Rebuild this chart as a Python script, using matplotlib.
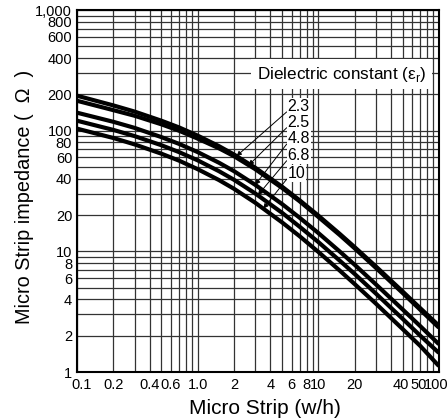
import numpy as np
import matplotlib
matplotlib.use("Agg")
import matplotlib.pyplot as plt
import matplotlib.transforms as mtransforms
from matplotlib.ticker import FixedLocator, NullLocator, NullFormatter

plt.rcParams['font.family'] = ['Liberation Sans', 'DejaVu Sans']

# ---- data ----
w_h = [0.1, 0.2, 0.3, 0.5, 0.7, 1, 1.5, 2, 3, 5, 7, 10, 15, 20, 30, 50, 70, 100]
z_23 = [195, 162, 144, 121, 106.5, 91, 74.5, 63.5, 49.3, 34.4, 26.5, 19.8, 14.0, 10.85, 7.5, 4.65, 3.38, 2.42]
z_25 = [177, 148, 133, 113, 100, 86, 71.5, 61.5, 48, 33.6, 26, 19.3, 13.7, 10.6, 7.3, 4.52, 3.28, 2.33]
z_48 = [141, 118.5, 105.5, 88.5, 77.8, 66.5, 54.3, 46.2, 35.6, 24.7, 19.0, 14.2, 10.0, 7.75, 5.33, 3.3, 2.4, 1.70]
z_68 = [121, 101.5, 90.2, 75.8, 66.5, 56.8, 46.2, 39.2, 30.2, 20.9, 16.0, 11.95, 8.4, 6.5, 4.47, 2.76, 2.0, 1.44]
z_10 = [104, 87, 77, 64.5, 56.5, 48, 39, 33, 25.3, 17.4, 13.35, 9.9, 6.95, 5.36, 3.69, 2.27, 1.645, 1.12]

series_labels = ['2.3', '2.5', '4.8', '6.8', '10']
series = [z_23, z_25, z_48, z_68, z_10]
arrow_x = [2.1, 2.65, 3.0, 3.15, 3.5]
label_y = [158, 117, 86, 62.5, 44]
label_x = 5.55

x_ticks = [0.1, 0.2, 0.4, 0.6, 1.0, 2, 4, 6, 8, 10, 20, 40, 50, 100]
x_tick_labels = ['0.1', '0.2', '0.4', '0.6', '1.0', '2', '4', '6', '8', '10', '20', '40', '50', '100']
y_ticks = [1, 2, 4, 6, 8, 10, 20, 40, 60, 80, 100, 200, 400, 600, 800, 1000]
y_tick_labels = ['1', '2', '4', '6', '8', '10', '20', '40', '60', '80', '100', '200', '400', '600', '800', '1,000']

fig = plt.figure(figsize=(4.47, 4.18), dpi=100)
ax = fig.add_axes([0.1723, 0.110, 0.8097, 0.866])
ax.set_xscale('log')
ax.set_yscale('log')
ax.set_xlim(0.1, 100)
ax.set_ylim(1, 1000)

# full grid at every 1..9 multiple
gx = [m * 10.0 ** e for e in (-1, 0, 1) for m in range(1, 10)] + [100]
gy = [m * 10.0 ** e for e in (0, 1, 2) for m in range(1, 10)] + [1000]
for v in gx:
    ax.axvline(v, color='#333333', lw=0.9, zorder=1)
for v in gy:
    ax.axhline(v, color='#333333', lw=0.9, zorder=1)

for z in series:
    ax.plot(w_h, z, color='black', lw=3.0, solid_capstyle='butt', zorder=3)

ax.xaxis.set_major_locator(FixedLocator(x_ticks))
ax.xaxis.set_minor_locator(NullLocator())
ax.xaxis.set_minor_formatter(NullFormatter())
ax.set_xticklabels(x_tick_labels)
ax.yaxis.set_major_locator(FixedLocator(y_ticks))
ax.yaxis.set_minor_locator(NullLocator())
ax.yaxis.set_minor_formatter(NullFormatter())
ax.set_yticklabels(y_tick_labels)
ax.tick_params(axis='both', length=0, labelsize=10.5)
ax.tick_params(axis='x', pad=4)
ax.tick_params(axis='y', pad=3.5)

# nudge some x labels like the reference (pixel offsets)
shifts = {0: 5, 11: 10, 12: 16, 13: -3}
xl = ax.get_xticklabels()
for i, dx in shifts.items():
    xl[i].set_transform(xl[i].get_transform() +
                        mtransforms.ScaledTranslation(dx / 100, 0, fig.dpi_scale_trans))

for s in ax.spines.values():
    s.set_linewidth(1.5)
    s.set_zorder(5)

ax.set_xlabel('Micro Strip (w/h)', fontsize=15, labelpad=5)
ax.xaxis.label.set_x(0.519)
ax.set_ylabel('Micro Strip impedance (  \u03a9  )', fontsize=14.3)
ax.yaxis.set_label_coords(-0.118, 0.485)

# legend title box
ax.text(0.497, 0.823, 'Dielectric constant (\u03b5$_\\mathregular{r}$)', transform=ax.transAxes,
        fontsize=12.3, ha='left', va='center', zorder=6,
        bbox=dict(facecolor='white', edgecolor='none', pad=4))

# labels with arrows
for lab, z, ax_x, ly in zip(series_labels, series, arrow_x, label_y):
    ty = 10 ** np.interp(np.log10(ax_x), np.log10(w_h), np.log10(z))
    ax.annotate(lab, xy=(ax_x, ty), xytext=(label_x, ly), fontsize=11.5,
                ha='left', va='center', zorder=6,
                bbox=dict(facecolor='white', edgecolor='none', pad=0.6),
                arrowprops=dict(arrowstyle='-|>', color='black', lw=0.7,
                                mutation_scale=7, shrinkA=0, shrinkB=0,
                                relpos=(0.0, 0.2)))

fig.savefig('out.png', dpi=100)
